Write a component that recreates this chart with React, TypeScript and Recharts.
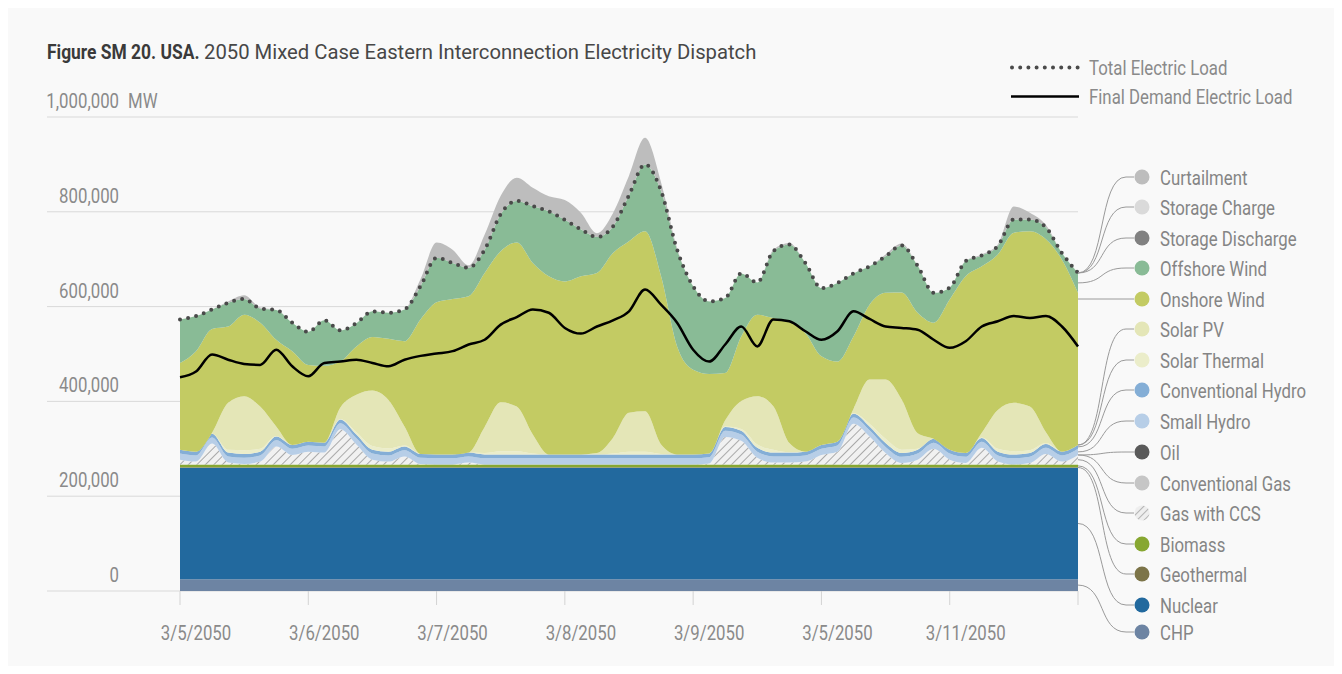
import React from 'react';
import { ComposedChart, Area, Line, XAxis, YAxis, CartesianGrid } from 'recharts';

// values in thousand MW, one point every 3 hours from 3/5/2050 00:00
const dayTicks = [0, 8, 16, 24, 32, 40, 48, 56];
const dayLabels = ['3/5/2050', '3/6/2050', '3/7/2050', '3/8/2050', '3/9/2050', '3/5/2050', '3/11/2050', ''];
const yTicks = [0, 200, 400, 600, 800, 1000];

const chp = [
  25, 25, 25, 25, 25, 25, 25, 25, 25, 25, 25, 25, 25, 25, 25, 25, 25, 25, 25,
  25, 25, 25, 25, 25, 25, 25, 25, 25, 25, 25, 25, 25, 25, 25, 25, 25, 25, 25,
  25, 25, 25, 25, 25, 25, 25, 25, 25, 25, 25, 25, 25, 25, 25, 25, 25, 25, 25,
];
const nuclear = [
  235, 235, 235, 235, 235, 235, 235, 235, 235, 235, 235, 235, 235, 235, 235, 235, 235, 235, 235,
  235, 235, 235, 235, 235, 235, 235, 235, 235, 235, 235, 235, 235, 235, 235, 235, 235, 235, 235,
  235, 235, 235, 235, 235, 235, 235, 235, 235, 235, 235, 235, 235, 235, 235, 235, 235, 235, 235,
];
const geothermal = [
  1, 1, 1, 1, 1, 1, 1, 1, 1, 1, 1, 1, 1, 1, 1, 1, 1, 1, 1,
  1, 1, 1, 1, 1, 1, 1, 1, 1, 1, 1, 1, 1, 1, 1, 1, 1, 1, 1,
  1, 1, 1, 1, 1, 1, 1, 1, 1, 1, 1, 1, 1, 1, 1, 1, 1, 1, 1,
];
const biomass = [
  6, 6, 6, 6, 6, 6, 6, 6, 6, 6, 6, 6, 6, 6, 6, 6, 6, 6, 6,
  6, 6, 6, 6, 6, 6, 6, 6, 6, 6, 6, 6, 6, 6, 6, 6, 6, 6, 6,
  6, 6, 6, 6, 6, 6, 6, 6, 6, 6, 6, 6, 6, 6, 6, 6, 6, 6, 6,
];
const gasCcs = [
  10, 6, 44, 4, 1, 6, 38, 20, 27, 25, 74, 42, 10, 6, 17, 1, 0, 0, 4,
  0, 0, 0, 0, 0, 0, 0, 0, 0, 0, 0, 0, 0, 0, 2, 58, 50, 14, 4,
  4, 6, 20, 27, 86, 59, 24, 3, 10, 33, 10, 3, 35, 6, 0, 3, 22, 6, 20,
];
const conventionalGas = [
  0, 0, 0, 0, 0, 0, 0, 0, 0, 0, 0, 0, 0, 0, 0, 0, 0, 0, 0,
  0, 0, 0, 0, 0, 0, 0, 0, 0, 0, 0, 0, 0, 0, 0, 0, 0, 0, 0,
  0, 0, 0, 0, 0, 0, 0, 0, 0, 0, 0, 0, 0, 0, 0, 0, 0, 0, 0,
];
const oil = [
  0, 0, 0, 0, 0, 0, 0, 0, 0, 0, 0, 0, 0, 0, 0, 0, 0, 0, 0,
  0, 0, 0, 0, 0, 0, 0, 0, 0, 0, 0, 0, 0, 0, 0, 0, 0, 0, 0,
  0, 0, 0, 0, 0, 0, 0, 0, 0, 0, 0, 0, 0, 0, 0, 0, 0, 0, 0,
];
const smallHydro = [
  13, 13, 13, 13, 13, 13, 13, 13, 13, 13, 13, 13, 13, 13, 13, 13, 13, 13, 13,
  13, 13, 13, 13, 13, 13, 13, 13, 13, 13, 13, 13, 13, 13, 13, 13, 13, 13, 13,
  13, 13, 13, 13, 13, 13, 13, 13, 13, 13, 13, 13, 13, 13, 13, 13, 13, 13, 13,
];
const conventionalHydro = [
  8, 8, 8, 8, 8, 8, 8, 8, 8, 8, 8, 8, 8, 8, 8, 8, 8, 8, 8,
  8, 8, 8, 8, 8, 8, 8, 8, 8, 8, 8, 8, 8, 8, 8, 8, 8, 8, 8,
  8, 8, 8, 8, 8, 8, 8, 8, 8, 8, 8, 8, 8, 8, 8, 8, 8, 8, 8,
];
const solarThermal = [
  0, 0, 0, 6, 8, 6, 1, 0, 0, 0, 1, 5, 8, 7, 2, 0, 0, 0, 0,
  3, 7, 7, 2, 0, 0, 0, 0, 2, 6, 6, 1, 0, 0, 0, 1, 4, 7, 6,
  1, 0, 0, 0, 1, 6, 9, 7, 2, 0, 0, 0, 1, 6, 7, 6, 2, 0, 0,
];
const solarPv = [
  0, 0, 2, 99, 114, 89, 20, 0, 0, 0, 24, 79, 117, 102, 40, 0, 0, 0, 0,
  55, 103, 94, 40, 0, 0, 0, 3, 33, 82, 85, 20, 0, 0, 0, 13, 59, 102, 92,
  19, 0, 0, 0, 9, 93, 125, 106, 33, 0, 0, 0, 10, 82, 102, 92, 23, 0, 0,
];
const onshoreWind = [
  183, 212, 219, 161, 172, 177, 183, 198, 162, 162, 97, 102, 113, 129, 180, 284, 321, 328, 330,
  325, 319, 346, 362, 376, 365, 376, 380, 390, 362, 380, 355, 228, 179, 168, 100, 136, 172, 186,
  257, 250, 187, 169, 153, 158, 183, 226, 254, 245, 317, 373, 351, 328, 359, 370, 407, 405, 321,
];
const offshoreWind = [
  92, 74, 41, 50, 33, 30, 63, 60, 70, 96, 66, 49, 54, 55, 67, 70, 94, 76, 60,
  49, 78, 88, 120, 137, 130, 99, 76, 56, 97, 141, 180, 204, 176, 153, 158, 133, 68, 141,
  162, 148, 144, 166, 133, 81, 77, 99, 99, 63, 25, 32, 23, 18, 28, 25, 25, 14, 42,
];
const storageDischarge = [
  0, 0, 0, 0, 0, 0, 0, 0, 0, 0, 0, 0, 0, 0, 0, 0, 0, 0, 0,
  0, 0, 0, 0, 0, 0, 0, 0, 0, 0, 0, 0, 0, 0, 0, 0, 0, 0, 0,
  0, 0, 0, 0, 0, 0, 0, 0, 0, 0, 0, 0, 0, 0, 0, 0, 0, 0, 0,
];
const storageCharge = [
  0, 0, 0, 0, 0, 0, 0, 0, 0, 0, 0, 0, 0, 0, 0, 0, 0, 0, 0,
  0, 0, 0, 0, 0, 0, 0, 0, 0, 0, 0, 0, 0, 0, 0, 0, 0, 0, 0,
  0, 0, 0, 0, 0, 0, 0, 0, 0, 0, 0, 0, 0, 0, 0, 0, 0, 0, 0,
];
const curtailment = [
  0, 0, 0, 3, 8, 2, 0, 0, 0, 0, 0, 0, 0, 0, 0, 15, 32, 28, 5,
  32, 39, 49, 39, 32, 42, 35, 8, 28, 41, 56, 18, 3, 0, 0, 0, 0, 0, 3,
  3, 0, 0, 0, 0, 0, 4, 4, 0, 0, 0, 0, 2, 3, 27, 14, 5, 0, 0,
];
const totalLoad = [
  573, 580, 594, 608, 616, 596, 593, 566, 547, 571, 550, 565, 590, 587, 594, 643, 703, 692, 682,
  720, 795, 823, 812, 801, 783, 763, 747, 769, 835, 900, 844, 720, 643, 611, 618, 670, 651, 717,
  731, 692, 639, 650, 670, 685, 706, 729, 686, 629, 640, 696, 708, 728, 784, 784, 767, 713, 671,
];
const finalDemand = [
  451, 463, 499, 488, 479, 477, 509, 474, 453, 481, 484, 488, 481, 474, 488, 496, 501, 506, 520,
  530, 562, 578, 594, 587, 555, 543, 558, 571, 590, 636, 604, 566, 509, 484, 520, 558, 516, 573,
  569, 548, 530, 548, 590, 574, 558, 555, 551, 530, 513, 527, 558, 569, 580, 576, 580, 558, 516,
];

// stacking order, bottom to top
const stack = [
  { key: 'chp', name: 'CHP', color: '#6d84a3', values: chp },
  { key: 'nuclear', name: 'Nuclear', color: '#22699e', values: nuclear },
  { key: 'geothermal', name: 'Geothermal', color: '#7c7448', values: geothermal },
  { key: 'biomass', name: 'Biomass', color: '#87a731', values: biomass },
  { key: 'gasCcs', name: 'Gas with CCS', color: 'url(#ccsHatch)', values: gasCcs },
  { key: 'conventionalGas', name: 'Conventional Gas', color: '#c6c6c6', values: conventionalGas },
  { key: 'oil', name: 'Oil', color: '#5a5a5a', values: oil },
  { key: 'smallHydro', name: 'Small Hydro', color: '#b7cee7', values: smallHydro },
  { key: 'conventionalHydro', name: 'Conventional Hydro', color: '#84aed6', values: conventionalHydro },
  { key: 'solarThermal', name: 'Solar Thermal', color: '#ebedca', values: solarThermal },
  { key: 'solarPv', name: 'Solar PV', color: '#e4e6b7', values: solarPv },
  { key: 'onshoreWind', name: 'Onshore Wind', color: '#c3cb63', values: onshoreWind },
  { key: 'offshoreWind', name: 'Offshore Wind', color: '#89bb96', values: offshoreWind },
  { key: 'storageDischarge', name: 'Storage Discharge', color: '#818181', values: storageDischarge },
  { key: 'storageCharge', name: 'Storage Charge', color: '#dadada', values: storageCharge },
  { key: 'curtailment', name: 'Curtailment', color: '#bdbdbd', values: curtailment },
];

const rows = chp.map((_, i) => {
  const row: Record<string, number> = { t: i, total: totalLoad[i], finalDemand: finalDemand[i] };
  stack.forEach((s) => { row[s.key] = s.values[i]; });
  return row;
});

const legendItems = [
  { key: 'curtailment', y: 169 },
  { key: 'storageCharge', y: 199 },
  { key: 'storageDischarge', y: 230 },
  { key: 'offshoreWind', y: 260 },
  { key: 'onshoreWind', y: 291 },
  { key: 'solarPv', y: 321 },
  { key: 'solarThermal', y: 352 },
  { key: 'conventionalHydro', y: 382 },
  { key: 'smallHydro', y: 413 },
  { key: 'oil', y: 444 },
  { key: 'conventionalGas', y: 475 },
  { key: 'gasCcs', y: 505 },
  { key: 'biomass', y: 536 },
  { key: 'geothermal', y: 566 },
  { key: 'nuclear', y: 597 },
  { key: 'chp', y: 624 },
];

const FONT = 'Roboto, sans-serif';
const SX = 0.84; // squeeze Roboto to look like the condensed face of the original
const W = 1326;
const H = 658;
const PLOT_L = 172;
const PLOT_R = 1070;
const PLOT_T = 109;
const PLOT_B = 583;
const Y_MAX = 1000;
const GREY = '#8a8a8a';

const yOf = (v: number) => PLOT_B - (v / Y_MAX) * (PLOT_B - PLOT_T);

const Txt = ({ x, y, anchor = 'start', fill = GREY, weight, size = 20, sx = SX, children }: any) => (
  <text
    transform={`translate(${x},${y}) scale(${sx},1)`}
    textAnchor={anchor}
    fontFamily={FONT}
    fontSize={size}
    fontWeight={weight}
    fill={fill}
  >
    {children}
  </text>
);

const YTick = (props: any) => {
  const { y, payload } = props;
  const v = payload.value as number;
  return (
    <g>
      <line x1={39} x2={PLOT_L} y1={y} y2={y} stroke="#d9d9d9" strokeWidth={1} />
      <Txt x={111} y={y - 9} anchor="end">{(v * 1000).toLocaleString('en-US')}</Txt>
      {v === Y_MAX && <Txt x={120} y={y - 9}>MW</Txt>}
    </g>
  );
};

const XTick = (props: any) => {
  const { x, payload } = props;
  const idx = dayTicks.indexOf(payload.value);
  return <Txt x={x + 16} y={632} anchor="middle">{dayLabels[idx]}</Txt>;
};

function leaderPaths() {
  const last = rows.length - 1;
  let acc = 0;
  const bounds: Record<string, [number, number]> = {};
  stack.forEach((s) => {
    const lo = acc;
    acc += s.values[last];
    bounds[s.key] = [lo, acc];
  });
  return legendItems.map((item) => {
    const [lo, hi] = bounds[item.key];
    const yTop = yOf(hi);
    const yBot = yOf(lo);
    const ys = item.y > yTop + 3 && item.y < yBot - 3 ? item.y : (yTop + yBot) / 2;
    const xs = PLOT_R;
    const xk = 1118;
    const d = Math.abs(ys - item.y) < 1
      ? `M${xs},${item.y} L1126,${item.y}`
      : `M${xs},${ys} C${xs + 28},${ys} ${xk - 28},${item.y} ${xk},${item.y} L1126,${item.y}`;
    return <path key={item.key} d={d} fill="none" stroke="#9a9a9a" strokeWidth={1} />;
  });
}

export default function App() {
  return (
    <div style={{ position: 'relative', width: W, height: H, background: '#f9f9f9' }}>
      <div style={{ position: 'absolute', left: 0, top: 0 }}>
        <ComposedChart
          width={W}
          height={H}
          data={rows}
          margin={{ top: PLOT_T, right: W - PLOT_R, left: PLOT_L - 130, bottom: 15 }}
        >
          <defs>
            <pattern id="ccsHatch" patternUnits="userSpaceOnUse" width="6" height="6" patternTransform="rotate(45)">
              <rect width="6" height="6" fill="#f1f1f1" />
              <line x1="0" y1="0" x2="0" y2="6" stroke="#a9a9a9" strokeWidth="2" />
            </pattern>
          </defs>
          <CartesianGrid horizontal vertical={false} stroke="#d9d9d9" />
          <XAxis
            type="number"
            dataKey="t"
            domain={[0, 56]}
            ticks={dayTicks}
            interval={0}
            axisLine={false}
            tickLine={{ stroke: '#d3d3d3' }}
            tickSize={14}
            height={60}
            tick={<XTick />}
          />
          <YAxis
            type="number"
            domain={[0, Y_MAX]}
            ticks={yTicks}
            interval={0}
            axisLine={false}
            tickLine={false}
            width={130}
            tick={<YTick />}
          />
          {stack.map((s) => (
            <Area
              key={s.key}
              type="monotone"
              dataKey={s.key}
              name={s.name}
              stackId="gen"
              stroke="none"
              fill={s.color}
              fillOpacity={1}
              isAnimationActive={false}
            />
          ))}
          <Line
            type="monotone"
            dataKey="total"
            name="Total Electric Load"
            stroke="#4a4a4a"
            strokeWidth={4}
            strokeDasharray="0 8.2"
            strokeLinecap="round"
            dot={false}
            isAnimationActive={false}
          />
          <Line
            type="monotone"
            dataKey="finalDemand"
            name="Final Demand Electric Load"
            stroke="#000000"
            strokeWidth={2.5}
            dot={false}
            isAnimationActive={false}
          />
        </ComposedChart>
      </div>
      <svg width={W} height={H} style={{ position: 'absolute', left: 0, top: 0, pointerEvents: 'none' }}>
        <defs>
          <pattern id="ccsHatchLegend" patternUnits="userSpaceOnUse" width="5" height="5" patternTransform="rotate(45)">
            <rect width="5" height="5" fill="#eeeeee" />
            <line x1="0" y1="0" x2="0" y2="5" stroke="#b3b3b3" strokeWidth="2" />
          </pattern>
        </defs>
        <Txt x={39} y={51} size={21} sx={0.83} weight="bold" fill="#3a3a3a">Figure SM 20. USA.</Txt>
        <Txt x={196} y={51} size={21} sx={0.965} fill="#474747">2050 Mixed Case Eastern Interconnection Electricity Dispatch</Txt>

        <line x1={1004} x2={1071} y1={59.5} y2={59.5} stroke="#4a4a4a" strokeWidth={4} strokeDasharray="0 8.2" strokeLinecap="round" />
        <Txt x={1081} y={67}>Total Electric Load</Txt>
        <line x1={1003} x2={1071} y1={88.5} y2={88.5} stroke="#000000" strokeWidth={2.5} />
        <Txt x={1081} y={96}>Final Demand Electric Load</Txt>

        {leaderPaths()}
        {legendItems.map((item) => {
          const s = stack.find((x) => x.key === item.key)!;
          const fill = item.key === 'gasCcs' ? 'url(#ccsHatchLegend)' : s.color;
          return (
            <g key={item.key}>
              <circle cx={1134} cy={item.y} r={7.5} fill={fill} />
              <Txt x={1152} y={item.y + 8} fill="#858585">{s.name}</Txt>
            </g>
          );
        })}
      </svg>
    </div>
  );
}
